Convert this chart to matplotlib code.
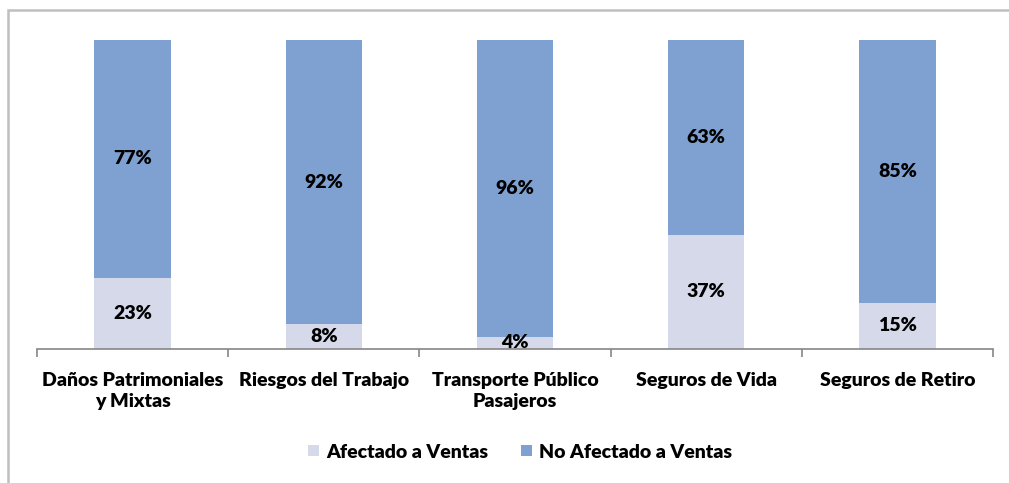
import matplotlib
matplotlib.use("Agg")
import matplotlib.pyplot as plt
from matplotlib.patches import Rectangle

categories = ["Daños Patrimoniales\ny Mixtas", "Riesgos del Trabajo", "Transporte Público\nPasajeros",
              "Seguros de Vida", "Seguros de Retiro"]
afectado = [23, 8, 4, 37, 15]
no_afectado = [77, 92, 96, 63, 85]
series_names = ["Afectado a Ventas", "No Afectado a Ventas"]

c_light = "#D6D9EA"
c_blue = "#7EA1D1"
font = ["Lato", "DejaVu Sans"]
fs = 14
fw = "heavy"

fig = plt.figure(figsize=(10.09, 4.83), dpi=100)
ax = fig.add_axes([37/1009, 1-349/483, (993-37)/1009, 309/483])

x = list(range(len(categories)))
b1 = ax.bar(x, afectado, width=0.4, color=c_light, label=series_names[0])
b2 = ax.bar(x, no_afectado, width=0.4, bottom=afectado, color=c_blue, label=series_names[1])

for i in x:
    ax.text(i, afectado[i]/2, f"{afectado[i]}%", ha="center", va="center",
            fontsize=fs, fontweight=fw, family=font)
    ax.text(i, afectado[i] + no_afectado[i]/2, f"{no_afectado[i]}%", ha="center", va="center",
            fontsize=fs, fontweight=fw, family=font)

ax.set_xlim(-0.5, len(categories)-0.5)
ax.set_ylim(0, 100)
for s in ["top", "right", "left"]:
    ax.spines[s].set_visible(False)
ax.spines["bottom"].set_color("#868686")
ax.spines["bottom"].set_linewidth(1.2)
ax.set_yticks([])
ax.set_xticks([i - 0.5 for i in range(len(categories)+1)], minor=False)
ax.set_xticklabels([])
ax.tick_params(axis="x", length=6, color="#868686", width=1.2)
for i, c in enumerate(categories):
    ax.text(i, -7.5, c, ha="center", va="top", fontsize=fs, fontweight=fw,
            family=font, linespacing=1.25, transform=ax.transData, clip_on=False)

leg = fig.legend(handles=[b1, b2], labels=series_names, loc="center",
                 bbox_to_anchor=(520/1009, 1-452/483), ncol=2, frameon=False,
                 prop={"family": font, "weight": fw, "size": fs},
                 handlelength=0.55, handleheight=0.55, columnspacing=1.7, handletextpad=0.35)

fig.patches.append(Rectangle((8/1009, -0.1), 1.2, 1-10/483+0.1, transform=fig.transFigure,
                             fill=False, edgecolor="#BFBFBF", linewidth=1.8))

fig.savefig("out.png", dpi=100)
